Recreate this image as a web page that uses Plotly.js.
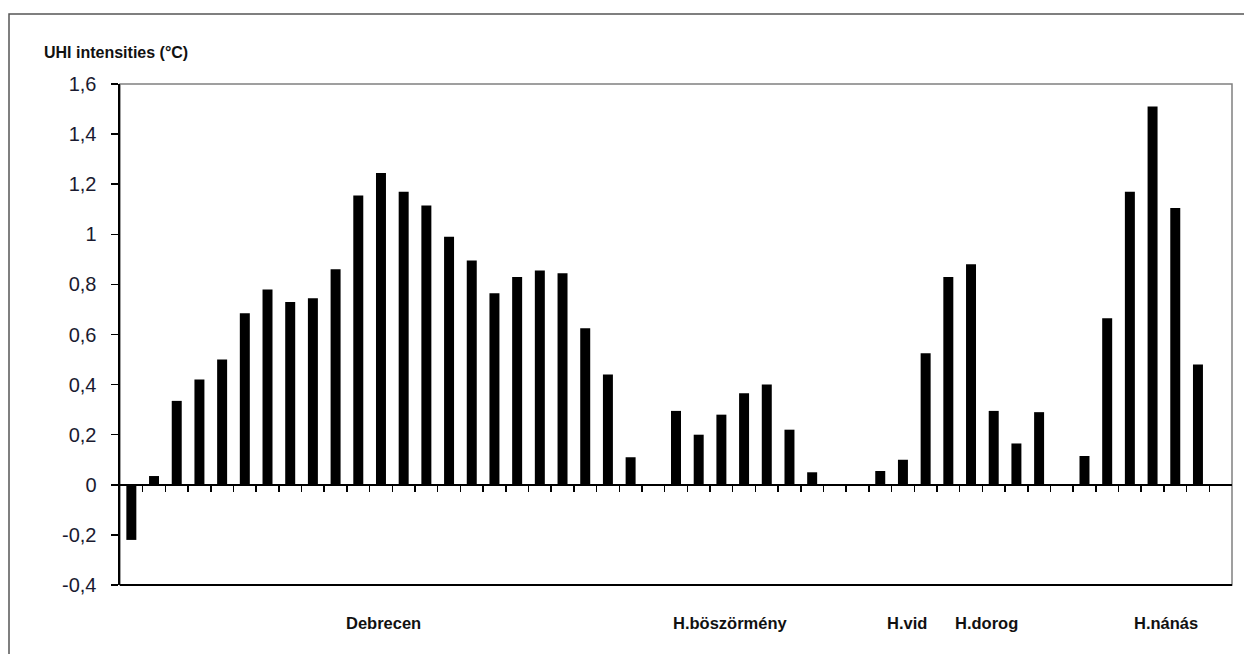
<!DOCTYPE html>
<html>
<head>
<meta charset="utf-8">
<script src="https://cdn.plot.ly/plotly-3.0.1.min.js"></script>
<style>html,body{margin:0;padding:0;background:#fff;}#chart{width:1244px;height:654px;}</style>
</head>
<body>
<div id="chart"></div>
<script>
// UHI intensity per measurement point (null = no bar)
const uhiValues = [
  -0.22, 0.035, 0.335, 0.42, 0.50, 0.685, 0.78, 0.73, 0.745, 0.86,
  1.155, 1.245, 1.17, 1.115, 0.99, 0.895, 0.765, 0.83, 0.855, 0.845,
  0.625, 0.44, 0.11, null, 0.295, 0.20, 0.28, 0.365, 0.40, 0.22,
  0.05, null, null, 0.055, 0.10, 0.525, 0.83, 0.88, 0.295, 0.165,
  0.29, null, 0.115, 0.665, 1.17, 1.51, 1.105, 0.48, null
];
// Town group labels and their position on the category scale
const groupNames = ["Debrecen", "H.böszörmény", "H.vid", "H.dorog", "H.nánás"];
const groupPos = [11.1, 26.4, 34.2, 37.7, 45.6];
// Y axis ticks
const yTickVals = [-0.4, -0.2, 0, 0.2, 0.4, 0.6, 0.8, 1, 1.2, 1.4, 1.6];
const yTickText = ["-0,4", "-0,2", "0", "0,2", "0,4", "0,6", "0,8", "1", "1,2", "1,4", "1,6"];
const yTitle = "UHI intensities (°C)";

const yMin = -0.4, yMax = 1.6;
const xIdx = uhiValues.map((v, i) => i);
const boundaries = xIdx.slice(1).map(i => i - 0.5);

const trace = {
  type: 'bar',
  x: xIdx,
  y: uhiValues,
  marker: {color: '#000000', line: {width: 0}},
  hoverinfo: 'y'
};

const annotations = groupNames.map((name, i) => ({
  text: name,
  x: groupPos[i],
  xref: 'x',
  y: (585 - 623) / 501,
  yref: 'paper',
  xanchor: 'center',
  yanchor: 'middle',
  showarrow: false,
  font: {family: 'Liberation Sans, Arial, sans-serif', size: 16.5, color: '#111', weight: 'bold'}
}));

const layout = {
  width: 1244,
  height: 654,
  margin: {l: 120, r: 12, t: 84, b: 69},
  paper_bgcolor: '#ffffff',
  plot_bgcolor: '#ffffff',
  showlegend: false,
  bargap: 0.56,
  title: {
    text: '<b>' + yTitle + '</b>',
    xref: 'container', x: 44 / 1244, xanchor: 'left',
    yref: 'container', y: 1 - 52 / 654, yanchor: 'middle',
    font: {family: 'Liberation Sans, Arial, sans-serif', size: 16, color: '#111'}
  },
  xaxis: {
    range: [-0.5, uhiValues.length - 0.5],
    anchor: 'free',
    position: (0 - yMin) / (yMax - yMin),
    showline: true, linecolor: '#000', linewidth: 2,
    tickmode: 'array', tickvals: boundaries, ticktext: boundaries.map(() => ''),
    ticks: 'outside', ticklen: 6, tickwidth: 1.5, tickcolor: '#000',
    showticklabels: false,
    showgrid: false, zeroline: false, fixedrange: true
  },
  yaxis: {
    range: [yMin, yMax],
    tickmode: 'array', tickvals: yTickVals, ticktext: yTickText,
    ticks: 'outside', ticklen: 7, tickwidth: 1.5, tickcolor: '#000',
    ticklabelstandoff: 10,
    showline: true, linecolor: '#000', linewidth: 2.5,
    showgrid: false, zeroline: false, fixedrange: true,
    tickfont: {family: 'Liberation Sans, Arial, sans-serif', size: 20, color: '#1a1a30'}
  },
  shapes: [
    {type: 'rect', xref: 'paper', yref: 'paper', x0: 0, x1: 1, y0: 0, y1: 1,
     line: {color: '#808080', width: 1.5}, layer: 'below'},
    {type: 'line', xref: 'paper', yref: 'paper', x0: 0, x1: 1, y0: 0, y1: 0,
     line: {color: '#000', width: 2}},
    {type: 'rect', xref: 'paper', yref: 'paper',
     x0: (9 - 120) / 1112, x1: 1.2, y0: -0.5, y1: (585 - 14) / 501,
     line: {color: '#555', width: 1.5}, layer: 'below'}
  ],
  annotations: annotations
};

Plotly.newPlot('chart', [trace], layout, {displayModeBar: false, staticPlot: true});
</script>
</body>
</html>
